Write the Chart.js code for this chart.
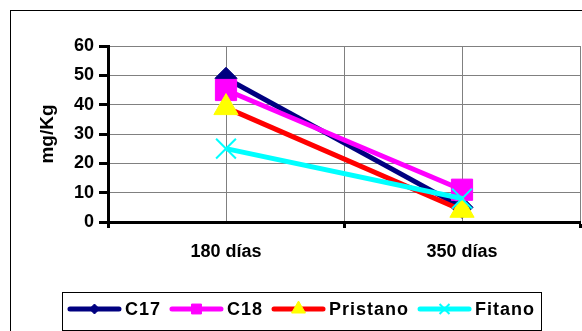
<!DOCTYPE html>
<html>
<head>
<meta charset="utf-8">
<script src="https://cdn.jsdelivr.net/npm/chart.js@4"></script>
<style>
	html, body { margin: 0; padding: 0; background: #fff; }
	#wrap { width: 582px; height: 331px; }
</style>
</head>
<body>
<div id="wrap"><canvas id="myChart" width="582" height="331"></canvas></div>
<script>
const categories = ["180 días", "350 días"];
const c17 = [49, 5];
const c18 = [45, 11];
const pristano = [39, 4];
const fitano = [25, 8];
const yMin = 0;
const yMax = 60;
const yStep = 10;

const FONT = "'Liberation Sans', Arial, sans-serif";
Chart.defaults.font.family = FONT;
Chart.defaults.color = "#000";

// outer frame of the chart (runs off the right and bottom edges)
const framePlugin = {
	id: "frame",
	beforeDraw(chart) {
		const ctx = chart.ctx;
		ctx.save();
		ctx.fillStyle = "#fff";
		ctx.fillRect(0, 0, chart.width, chart.height);
		ctx.strokeStyle = "#000";
		ctx.lineWidth = 1;
		ctx.strokeRect(10.5, 10.5, 620, 360);
		ctx.restore();
	},
};

// boxed legend at the bottom, line with marker in the middle
const legendPlugin = {
	id: "boxLegend",
	afterDraw(chart) {
		const ctx = chart.ctx;
		const sets = chart.data.datasets;
		const sample = 53;
		const textGap = 4;
		const itemGap = 9;
		const boxLeft = 62;
		const boxRight = 541;
		const boxTop = 292;
		const boxBottom = 330;
		const midY = 309;

		ctx.save();
		ctx.font = "bold 18px " + FONT;
		ctx.letterSpacing = "1px";
		const widths = sets.map((ds) => ctx.measureText(ds.label).width);
		const total =
			widths.reduce((a, w) => a + w + sample + textGap, 0) +
			itemGap * (sets.length - 1);
		let x = (boxLeft + boxRight) / 2 - total / 2;

		ctx.strokeStyle = "#000";
		ctx.lineWidth = 1;
		ctx.strokeRect(boxLeft + 0.5, boxTop + 0.5, boxRight - boxLeft, boxBottom - boxTop);

		sets.forEach((ds, i) => {
			ctx.strokeStyle = ds.borderColor;
			ctx.lineWidth = 5;
			ctx.lineCap = "round";
			ctx.beginPath();
			ctx.moveTo(x + 2, midY);
			ctx.lineTo(x + sample - 2, midY);
			ctx.stroke();

			ctx.fillStyle = ds.pointBackgroundColor;
			ctx.strokeStyle = ds.pointBorderColor;
			ctx.lineCap = "butt";
			ctx.lineWidth = ds.pointBorderWidth;
			Chart.helpers.drawPoint(
				ctx,
				{
					pointStyle: ds.pointStyle,
					radius: ds.legendRadius,
					borderWidth: ds.pointBorderWidth,
					rotation: 0,
				},
				x + sample / 2,
				midY
			);

			ctx.fillStyle = "#000";
			ctx.textBaseline = "middle";
			ctx.textAlign = "left";
			ctx.fillText(ds.label, x + sample + textGap, midY + 1);
			x += sample + textGap + widths[i] + itemGap;
		});
		ctx.restore();
	},
};

function makeSet(label, data, color, style, radius, legendRadius, fill, order) {
	return {
		label: label,
		data: data,
		xAxisID: "x",
		borderColor: color,
		backgroundColor: color,
		borderWidth: 5,
		borderJoinStyle: "round",
		pointStyle: style,
		pointRadius: radius,
		pointHoverRadius: radius,
		pointBackgroundColor: fill,
		pointBorderColor: style === "crossRot" ? color : fill,
		pointBorderWidth: style === "crossRot" ? 2 : 1,
		legendRadius: legendRadius,
		order: order,
		tension: 0,
	};
}

const ctx = document.getElementById("myChart");

new Chart(ctx, {
	type: "line",
	data: {
		labels: categories,
		datasets: [
			makeSet("C17", c17, "#000080", "rectRot", 11, 5, "#000080", 4),
			makeSet("C18", c18, "#ff00ff", "rect", 15, 7, "#ff00ff", 3),
			makeSet("Pristano", pristano, "#ff0000", "triangle", 14, 8, "#ffff00", 2),
			makeSet("Fitano", fitano, "#00ffff", "crossRot", 14, 7, "#00ffff", 1),
		],
	},
	options: {
		responsive: false,
		animation: false,
		devicePixelRatio: 1,
		layout: {
			autoPadding: false,
			padding: { top: 46, right: 2, left: 32, bottom: 50 },
		},
		plugins: {
			legend: { display: false },
			tooltip: { enabled: false },
		},
		scales: {
			x: {
				type: "category",
				position: "bottom",
				offset: true,
				grid: {
					offset: true,
					color: "#808080",
					lineWidth: 1,
					tickColor: "#000",
					tickWidth: 3,
					tickLength: 6,
				},
				border: { color: "#000", width: 3 },
				ticks: {
					padding: 13,
					font: { size: 18, weight: "bold" },
					color: "#000",
				},
				afterFit: (scale) => {
					scale.height = 59;
					scale.paddingLeft = 0;
					scale.paddingRight = 0;
				},
			},
			x2: {
				type: "category",
				position: "top",
				offset: true,
				grid: {
					offset: false,
					color: "#808080",
					lineWidth: 1,
					drawTicks: false,
				},
				border: { display: false },
				ticks: { display: false },
				afterFit: (scale) => {
					scale.height = 0;
					scale.paddingLeft = 0;
					scale.paddingRight = 0;
				},
			},
			y: {
				min: yMin,
				max: yMax,
				grid: {
					color: "#808080",
					lineWidth: 1,
					tickColor: "#000",
					tickWidth: 3,
					tickLength: 9,
				},
				border: { color: "#000", width: 3 },
				ticks: {
					stepSize: yStep,
					padding: 5,
					font: { size: 18, weight: "bold" },
					color: "#000",
				},
				title: {
					display: true,
					text: "mg/Kg",
					font: { size: 19, weight: "bold" },
					color: "#000",
				},
				afterFit: (scale) => {
					scale.width = 76;
					scale.paddingTop = 0;
					scale.paddingBottom = 0;
				},
			},
		},
	},
	plugins: [framePlugin, legendPlugin],
});
</script>
</body>
</html>
